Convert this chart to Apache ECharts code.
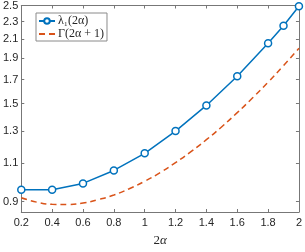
<!DOCTYPE html>
<html><head><meta charset="utf-8">
<script src="https://cdn.jsdelivr.net/npm/echarts@6/dist/echarts.min.js"></script>
<style>html,body{margin:0;padding:0;background:#fff}#c{width:305px;height:252px}</style>
</head><body><div id="c"></div>
<script>
// Data
var xBlue = [0.2, 0.4, 0.6, 0.8, 1.0, 1.2, 1.4, 1.6, 1.8, 1.9, 2.0];
var lambdaVals = [0.957, 0.957, 0.989, 1.058, 1.157, 1.299, 1.485, 1.729, 2.054, 2.249, 2.49];
var xRed = [0.2, 0.3, 0.4, 0.5, 0.6, 0.7, 0.8, 0.9, 1.0, 1.1, 1.2, 1.3, 1.4, 1.5, 1.6, 1.7, 1.8, 1.9, 2.0];
var gammaVals = [0.918, 0.897, 0.887, 0.886, 0.893, 0.909, 0.931, 0.962, 1.0, 1.046, 1.102, 1.167, 1.242, 1.329, 1.430, 1.545, 1.676, 1.827, 2.0];
var yTicks = [0.9, 1.1, 1.3, 1.5, 1.7, 1.9, 2.1, 2.3, 2.5];
var yRange = [0.852, 2.5];
var xRange = [0.2, 2.0];
var legendNames = ['λ₁(2α)', 'Γ(2α + 1)'];

var L = Math.log;
var axisCol = '#777777';
var txtCol = '#262626';
var yTickLog = yTicks.map(L);

var chart = echarts.init(document.getElementById('c'), null, {renderer: 'canvas'});
var xCommon = {
  type: 'value', min: xRange[0], max: xRange[1], interval: 0.2,
  axisLine: {show: true, onZero: false, lineStyle: {color: axisCol, width: 1}},
  axisTick: {show: true, inside: true, length: 3, lineStyle: {color: axisCol}},
  splitLine: {show: false}
};
var yCommon = {
  type: 'value', min: L(yRange[0]), max: L(yRange[1]),
  axisLine: {show: true, onZero: false, lineStyle: {color: axisCol, width: 1}},
  axisTick: {show: true, inside: true, length: 3, customValues: yTickLog, lineStyle: {color: axisCol}},
  splitLine: {show: false}
};
var option = {
  animation: false,
  backgroundColor: '#fff',
  grid: {left: 20, right: 4, top: 5, bottom: 30, containLabel: false},
  xAxis: [
    Object.assign({}, xCommon, {
      position: 'bottom',
      axisLabel: {show: true, color: txtCol, fontSize: 11, fontFamily: 'Liberation Sans', margin: 5,
        formatter: function (v) { return String(+v.toFixed(1)); }},
      name: '{n|2}{i|α}', nameLocation: 'middle', nameGap: 22,
      nameTextStyle: {color: txtCol, fontSize: 13, fontFamily: 'Liberation Serif',
        rich: {
          n: {fontSize: 13, fontFamily: 'Liberation Serif', color: txtCol},
          i: {fontSize: 13, fontFamily: 'Liberation Serif', fontStyle: 'italic', color: txtCol}
        }}
    }),
    Object.assign({}, xCommon, {position: 'top', axisLabel: {show: false}})
  ],
  yAxis: [
    Object.assign({}, yCommon, {
      position: 'left',
      axisLabel: {show: true, color: txtCol, fontSize: 11, fontFamily: 'Liberation Sans', margin: 3,
        customValues: yTickLog,
        formatter: function (v) { return Math.exp(v).toFixed(1); }}
    }),
    Object.assign({}, yCommon, {position: 'right', axisLabel: {show: false}})
  ],
  legend: {
    show: true, orient: 'vertical', left: 36, top: 13,
    backgroundColor: '#fff', borderColor: '#8a8a8a', borderWidth: 1, borderRadius: 0,
    padding: [2, 3, 1, 2], itemGap: 1, itemWidth: 16, itemHeight: 7,
    textStyle: {color: txtCol, fontSize: 12, fontFamily: 'Liberation Serif', padding: [0, 0, 0, -2]},
    data: [
      {name: legendNames[0]},
      {name: legendNames[1], itemStyle: {opacity: 0}}
    ]
  },
  series: [
    {
      name: legendNames[0], type: 'line',
      data: xBlue.map(function (x, i) { return [x, L(lambdaVals[i])]; }),
      color: '#0072BD',
      lineStyle: {width: 1.5, color: '#0072BD'},
      symbol: 'circle', symbolSize: 7, showAllSymbol: true,
      itemStyle: {color: '#fff', borderColor: '#0072BD', borderWidth: 1.5},
      clip: false
    },
    {
      name: legendNames[1], type: 'line',
      data: xRed.map(function (x, i) { return [x, L(gammaVals[i])]; }),
      color: '#D95319', smooth: true,
      lineStyle: {width: 1.5, color: '#D95319', type: [6, 4]},
      symbol: 'none'
    }
  ]
};
chart.setOption(option);
</script></body></html>
